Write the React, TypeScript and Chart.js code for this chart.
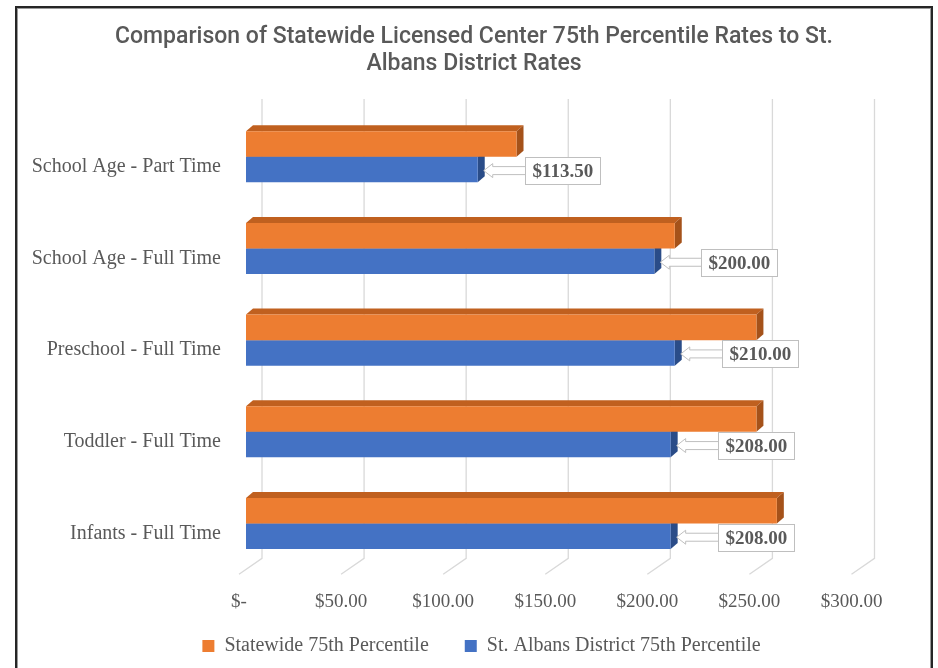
import React, { useEffect, useRef } from "react";
import { Chart, registerables } from "chart.js";

Chart.register(...registerables);

const categories = [
  "School Age - Part Time",
  "School Age - Full Time",
  "Preschool - Full Time",
  "Toddler - Full Time",
  "Infants - Full Time",
];
const statewide = [132.5, 210, 250, 250, 260];
const stAlbans = [113.5, 200, 210, 208, 208];
const xTicks = [0, 50, 100, 150, 200, 250, 300];
const seriesNames = ["Statewide 75th Percentile", "St. Albans District 75th Percentile"];
const titleLines = [
  "Comparison of Statewide Licensed Center 75th Percentile Rates to St.",
  "Albans District Rates",
];

const FRONT = ["#ED7D31", "#4472C4"];
const TOP = ["#C0601F", "#3A63AC"];
const SIDE = ["#A5521A", "#2A4C88"];
const DX = 7;
const DY = -6;
const TEXT = "#595959";
const SERIF = "'Liberation Serif', 'Times New Roman', serif";

const money = (v: number) => (v === 0 ? "$-" : "$" + v.toFixed(2));

const threeD = {
  id: "threeD",
  beforeDatasetsDraw(chart: any) {
    const { ctx, chartArea: ca, scales } = chart;
    const xs = scales.x;
    ctx.save();
    ctx.strokeStyle = "#d9d9d9";
    ctx.lineWidth = 1.3;
    xTicks.forEach((v) => {
      const px = xs.getPixelForValue(v);
      ctx.beginPath();
      ctx.moveTo(px + 16, ca.top - 12);
      ctx.lineTo(px + 16, ca.bottom - 11);
      ctx.lineTo(px - 7, ca.bottom + 5);
      ctx.stroke();
    });
    for (let d = chart.data.datasets.length - 1; d >= 0; d--) {
      const meta = chart.getDatasetMeta(d);
      meta.data.forEach((bar: any) => {
        const { x, y, base, height } = bar.getProps(["x", "y", "base", "height"], true);
        const top = y - height / 2;
        const bottom = y + height / 2;
        ctx.fillStyle = TOP[d];
        ctx.beginPath();
        ctx.moveTo(base, top);
        ctx.lineTo(base + DX, top + DY);
        ctx.lineTo(x + DX, top + DY);
        ctx.lineTo(x, top);
        ctx.closePath();
        ctx.fill();
        ctx.fillStyle = SIDE[d];
        ctx.beginPath();
        ctx.moveTo(x, top);
        ctx.lineTo(x + DX, top + DY);
        ctx.lineTo(x + DX, bottom + DY);
        ctx.lineTo(x, bottom);
        ctx.closePath();
        ctx.fill();
      });
    }
    ctx.restore();
  },
};

const callout = {
  id: "callout",
  afterDatasetsDraw(chart: any) {
    const ctx = chart.ctx;
    const meta = chart.getDatasetMeta(1);
    ctx.save();
    ctx.font = "bold 19px " + SERIF;
    meta.data.forEach((bar: any, i: number) => {
      const { x, y } = bar.getProps(["x", "y"], true);
      const text = money(stAlbans[i]);
      const tw = ctx.measureText(text).width;
      const cy = y + 1;
      const bx = Math.round(x + 47) + 0.5;
      const bw = Math.round(tw + 14);
      const bh = 27;
      const by = Math.round(cy - bh / 2) + 0.5;
      const tip = x + 6;
      const neck = x + 15;
      ctx.beginPath();
      ctx.moveTo(bx, cy - 4);
      ctx.lineTo(neck, cy - 4);
      ctx.lineTo(neck, cy - 7);
      ctx.lineTo(tip, cy);
      ctx.lineTo(neck, cy + 7);
      ctx.lineTo(neck, cy + 4);
      ctx.lineTo(bx, cy + 4);
      ctx.fillStyle = "#ffffff";
      ctx.fill();
      ctx.strokeStyle = "#bfbfbf";
      ctx.lineWidth = 1;
      ctx.stroke();
      ctx.fillRect(bx, by, bw, bh);
      ctx.strokeRect(bx, by, bw, bh);
      ctx.fillStyle = TEXT;
      ctx.textAlign = "left";
      ctx.textBaseline = "middle";
      ctx.fillText(text, bx + 7, by + bh / 2 + 1);
    });
    ctx.restore();
  },
};

const placeBoxes = {
  id: "placeBoxes",
  afterLayout(chart: any) {
    const t = chart.titleBlock;
    if (t) {
      t.left = 15;
      t.right = 933;
      t.width = 918;
    }
    const lg = chart.legend;
    if (lg) {
      lg.left = 15;
      lg.right = 948;
      lg.width = lg.right - lg.left;
      lg.top = 600;
    }
  },
};

export default function App() {
  const ref = useRef<HTMLCanvasElement | null>(null);

  useEffect(() => {
    if (!ref.current) return;
    const chart = new Chart(ref.current, {
      type: "bar",
      data: {
        labels: categories,
        datasets: [
          {
            label: seriesNames[0],
            data: statewide,
            backgroundColor: FRONT[0],
            barPercentage: 1,
            categoryPercentage: 0.557,
          },
          {
            label: seriesNames[1],
            data: stAlbans,
            backgroundColor: FRONT[1],
            barPercentage: 1,
            categoryPercentage: 0.557,
          },
        ],
      },
      options: {
        indexAxis: "y",
        animation: false,
        responsive: false,
        devicePixelRatio: 1,
        layout: { padding: { left: 10, right: 79.5, top: 0, bottom: -13.3 } },
        scales: {
          x: {
            min: 0,
            max: 300,
            grid: { display: false, drawTicks: false },
            border: { display: false },
            afterBuildTicks: (scale: any) => {
              scale.ticks = xTicks.map((v) => ({ value: v }));
            },
            afterFit: (scale: any) => {
              scale.height = 46;
            },
            ticks: {
              callback: (v: any) => money(Number(v)),
              font: { family: SERIF, size: 19 },
              color: TEXT,
              padding: 21,
              labelOffset: -7,
              maxRotation: 0,
            },
          },
          y: {
            grid: { display: false, drawTicks: false },
            border: { display: false },
            afterFit: (scale: any) => {
              scale.width = 236;
            },
            ticks: {
              font: { family: SERIF, size: 20 },
              color: TEXT,
              padding: 25,
              labelOffset: 10,
            },
          },
        },
        plugins: {
          title: {
            display: true,
            text: titleLines,
            color: TEXT,
            font: { family: "Roboto, 'Liberation Sans', sans-serif", size: 23, weight: "500", lineHeight: 1.174 },
            padding: { top: 24, bottom: 33 },
          },
          legend: {
            display: true,
            position: "bottom",
            labels: {
              boxWidth: 12,
              boxHeight: 12,
              padding: 36,
              color: TEXT,
              font: { family: SERIF, size: 20 },
            },
          },
          tooltip: { enabled: false },
        },
      },
      plugins: [threeD, callout, placeBoxes],
    } as any);
    return () => chart.destroy();
  }, []);

  return (
    <div style={{ position: "absolute", left: 0, top: 0, width: 938, height: 668, overflow: "hidden", background: "#fff" }}>
      <canvas ref={ref} width={938} height={668} style={{ position: "absolute", left: 0, top: 0, display: "block" }} />
      <div
        style={{
          position: "absolute",
          left: 15,
          top: 6,
          width: 918,
          height: 720,
          boxSizing: "border-box",
          border: "2px solid #262626",
          boxShadow: "inset 0 0 0 1px #9a9a9a",
          pointerEvents: "none",
        }}
      />
    </div>
  );
}
